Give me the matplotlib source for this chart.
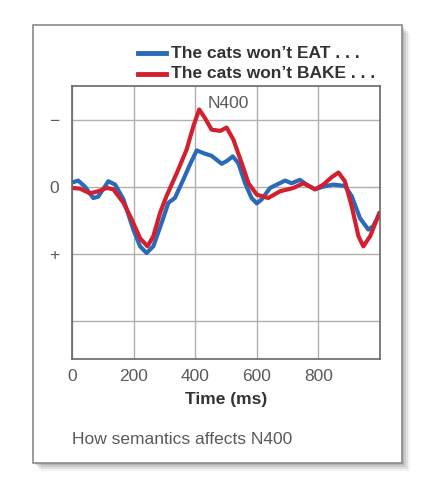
import numpy as np
import matplotlib
matplotlib.use("Agg")
import matplotlib.pyplot as plt
from matplotlib.patches import Rectangle

plt.rcParams['font.family'] = ['Liberation Sans', 'DejaVu Sans']

# ERP traces (negative is up)
t_eat = [0, 20, 42, 69, 85, 118, 140, 167, 199, 221, 242, 264, 291, 313, 334, 361,
         383, 405, 426, 453, 486, 502, 522, 540, 562, 583, 600, 616, 643, 665, 692,
         713, 740, 762, 789, 816, 848, 886, 908, 935, 962, 978, 1000]
v_eat = [-0.06, -0.09, 0.0, 0.17, 0.15, -0.08, -0.03, 0.19, 0.64, 0.89, 0.99, 0.89,
         0.54, 0.24, 0.17, -0.10, -0.33, -0.54, -0.50, -0.46, -0.34, -0.38, -0.45,
         -0.35, -0.05, 0.17, 0.25, 0.19, 0.02, -0.03, -0.09, -0.05, -0.10, -0.03,
         0.04, 0.0, -0.03, -0.01, 0.14, 0.47, 0.64, 0.59, 0.39]

t_bake = [0, 26, 58, 85, 113, 134, 167, 194, 221, 245, 264, 286, 307, 340, 372, 394,
          413, 432, 453, 481, 502, 524, 551, 573, 600, 637, 675, 719, 751, 789, 816,
          843, 865, 886, 908, 930, 946, 968, 1000]
v_bake = [0.02, 0.03, 0.10, 0.07, 0.02, 0.04, 0.24, 0.49, 0.77, 0.89, 0.74, 0.39,
          0.14, -0.20, -0.55, -0.90, -1.15, -1.02, -0.85, -0.83, -0.88, -0.70, -0.35,
          -0.05, 0.12, 0.17, 0.07, 0.02, -0.05, 0.04, -0.03, -0.14, -0.21, -0.08,
          0.29, 0.74, 0.89, 0.74, 0.37]

x_ticks = [0, 200, 400, 600, 800]
y_ticks = [-1, 0, 1, 2]
y_labels = ["\u2212", "0", "+", ""]

blue = "#2a6ab8"
red = "#d3202f"
gray = "#5a5a5a"

fig = plt.figure(figsize=(4.47, 5.0), dpi=100)

# outer frame with soft shadow
for i, a in enumerate([0.05, 0.07, 0.09, 0.11]):
    off = (4 - i) * 2.0
    fig.patches.append(Rectangle((33 / 447 + off / 447, 37 / 500 - off / 500), 369 / 447, 438 / 500,
                                 transform=fig.transFigure, facecolor="black", alpha=a,
                                 edgecolor="none", zorder=0))
fig.patches.append(Rectangle((33 / 447, 37 / 500), 369 / 447, 438 / 500,
                             transform=fig.transFigure, facecolor="white",
                             edgecolor="#8a8a8a", linewidth=1.2, zorder=1))

ax = fig.add_axes([72 / 447, 1 - 359 / 500, 308 / 447, 273 / 500])
ax.set_zorder(2)
ax.plot(t_eat, v_eat, color=blue, lw=3.0, solid_capstyle="butt")
ax.plot(t_bake, v_bake, color=red, lw=3.0, solid_capstyle="butt")

ax.set_xlim(0, 1000)
ax.set_ylim(2.57, -1.5)
ax.set_xticks(x_ticks)
ax.set_yticks(y_ticks)
ax.set_yticklabels(y_labels)
ax.grid(True, color="#b0b0b0", lw=1.0)
ax.tick_params(length=0, labelsize=12.5, labelcolor=gray)
ax.tick_params(axis="x", pad=7)
ax.tick_params(axis="y", pad=9)
for s in ax.spines.values():
    s.set_color("#666666")
    s.set_linewidth(1.2)
ax.set_xlabel("Time (ms)", fontsize=12.5, fontweight="bold", color="#333333", labelpad=6)

ax.text(0.44, 0.965, "N400", transform=ax.transAxes, ha="left", va="top",
        fontsize=12.5, color=gray)

# legend drawn above the axes
fig.add_artist(plt.Line2D([138 / 447, 166 / 447], [1 - 53 / 500] * 2, color=blue, lw=3.5))
fig.add_artist(plt.Line2D([138 / 447, 166 / 447], [1 - 74 / 500] * 2, color=red, lw=3.5))
fig.text(171 / 447, 1 - 53 / 500, "The cats won\u2019t EAT . . .", fontsize=12.5,
         fontweight="bold", color="#333333", va="center", ha="left")
fig.text(171 / 447, 1 - 74 / 500, "The cats won\u2019t BAKE . . .", fontsize=12.5,
         fontweight="bold", color="#333333", va="center", ha="left")

fig.text(72 / 447, 1 - 440 / 500, "How semantics affects N400", fontsize=12.5,
         color=gray, va="center", ha="left")

fig.savefig("out.png", dpi=100)
